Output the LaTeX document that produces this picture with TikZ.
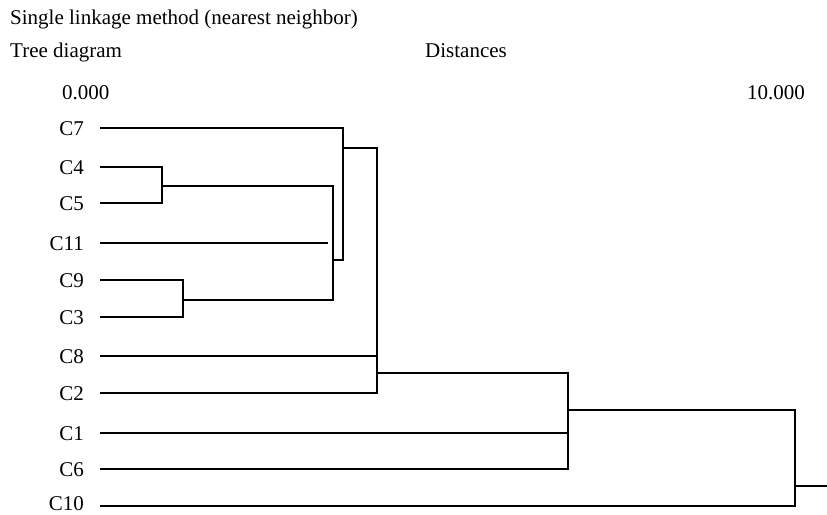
\documentclass[tikz,border=0pt]{standalone}
\usepackage{fontspec}
\setmainfont{Liberation Serif}
\begin{document}
\begin{tikzpicture}[x=1pt,y=-1pt,
  lbl/.style={anchor=base east, inner sep=0pt, font=\fontsize{21}{24}\selectfont},
  txt/.style={anchor=base west, inner sep=0pt, font=\fontsize{21}{24}\selectfont},
  tree/.style={line width=2.6pt, line join=miter, line cap=butt}]
\useasboundingbox (0,0) rectangle (827,514);
% headers
\node[txt] (title) at (10,24) {Single linkage method (nearest neighbor)};
\node[txt] (treed) at (10,57) {Tree diagram};
\node[txt] (dist) at (425,57) {Distances};
\node[txt] (zero) at (62,99) {0.000};
\node[txt] (ten) at (747,99) {10.000};
% leaves
\foreach \n/\y in {7/128,4/167,5/203,11/243,9/280,3/317,8/356,2/393,1/433,6/469}{
  \node[lbl] (L\n) at (84,\y+7) {C\n};
  \coordinate (s\n) at (100,\y);
}
\node[lbl] (L10) at (84,510) {C10};
\coordinate (s10) at (100,506);
% joints
\coordinate (j45) at (162,186);
\coordinate (j93) at (183,300);
\coordinate (jA) at (333,260);
\coordinate (e11) at (328,243);
\coordinate (jB) at (343,148);
\coordinate (jC) at (377,373);
\coordinate (jD) at (568,410);
\coordinate (jE) at (795,486);
\coordinate (root) at (827,486);
% tree
\draw[tree] (s4) -| (j45) |- (s5);
\draw[tree] (s9) -| (j93) |- (s3);
\draw[tree] (j45) -| (jA) |- (j93);
\draw[tree] (s11) -- (e11);
\draw[tree] (s7) -| (jB) |- (jA);
\draw[tree] (jB) -| (jC) |- (s2);
\draw[tree] (s8) -- (s8 -| jC);
\draw[tree] (jC) -| (jD) |- (s6);
\draw[tree] (s1) -- (s1 -| jD);
\draw[tree] (jD) -| (jE) |- (s10);
\draw[tree] (jE) -- (root);
\end{tikzpicture}
\end{document}
